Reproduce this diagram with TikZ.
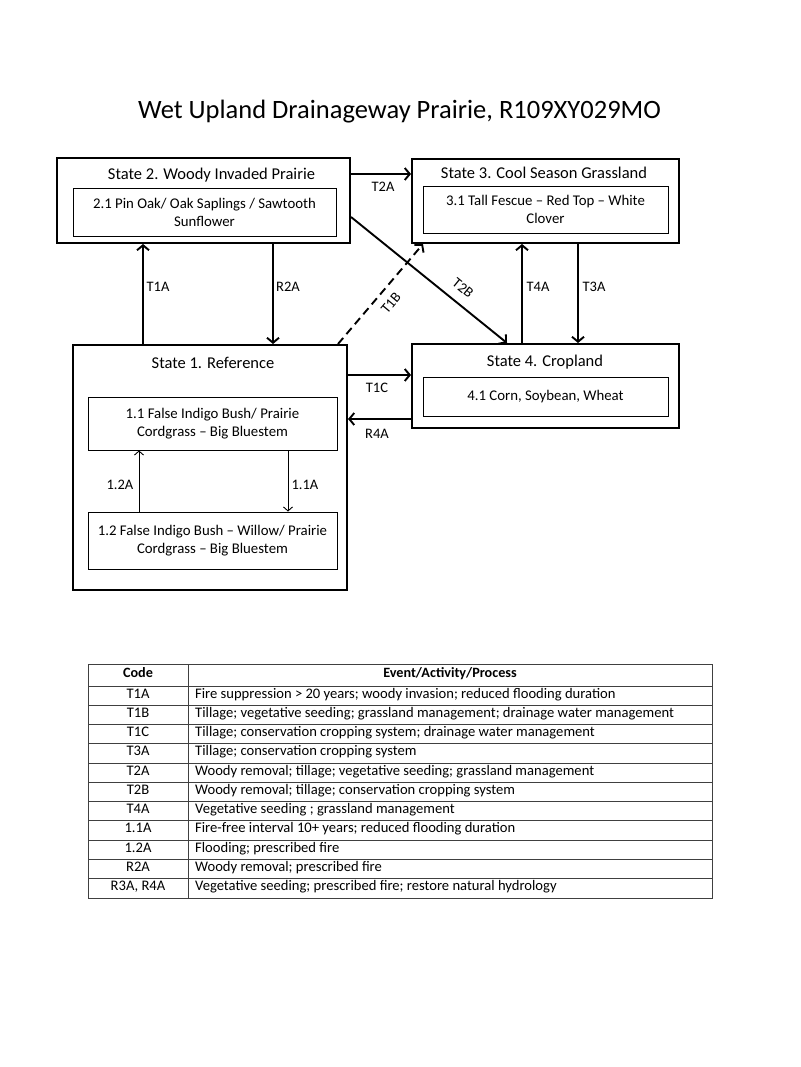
\documentclass[tikz,border=0pt]{standalone}
\usepackage{fontspec}
\setmainfont{Carlito}
\usetikzlibrary{arrows.meta}

\tikzset{
	statebox/.style={draw,line width=2pt,inner sep=0pt},
	phasebox/.style={draw,line width=0.9pt,inner sep=0pt,align=center,font=\fontsize{14.8}{18}\selectfont},
	statename/.style={font=\fontsize{16.5}{19}\selectfont},
	arr/.style={line width=1.9pt,-{Straight Barb[length=5pt,width=12pt]}},
	thinarr/.style={line width=0.9pt,-{Straight Barb[length=4pt,width=9pt]}},
	lbl/.style={font=\fontsize{14.5}{17}\selectfont},
	cell/.style={font=\fontsize{14.6}{17}\selectfont,inner sep=0pt}
}

\begin{document}
\begin{tikzpicture}[x=1pt,y=-1pt]
	\useasboundingbox (0,0) rectangle (800,1067);
	\node[font=\fontsize{26.5}{30}\selectfont] (title) at (399.5,112) {Wet Upland Drainageway Prairie, R109XY029MO};

	\node[statebox,minimum width=293,minimum height=85] (st2) at (203.5,200.5) {};
	\node[statename] at (211.5,175) {State 2. Woody Invaded Prairie};
	\node[phasebox,minimum width=263,minimum height=48] (ph21) at (204.5,212) {2.1 Pin Oak/ Oak Saplings / Sawtooth\\Sunflower};

	\node[statebox,minimum width=267,minimum height=84] (st3) at (545.5,201) {};
	\node[statename] at (544,173) {State 3. Cool Season Grassland};
	\node[phasebox,minimum width=245,minimum height=47] (ph31) at (545.5,209.5) {3.1 Tall Fescue -- Red Top -- White\\Clover};

	\node[statebox,minimum width=274,minimum height=245] (st1) at (210,467.5) {};
	\node[statename] at (213,363) {State 1. Reference};
	\node[phasebox,minimum width=249,minimum height=53] (ph11) at (212.5,423.5) {1.1 False Indigo Bush/ Prairie\\Cordgrass -- Big Bluestem};
	\node[phasebox,minimum width=249,minimum height=57] (ph12) at (212.5,540.5) {1.2 False Indigo Bush -- Willow/ Prairie\\Cordgrass -- Big Bluestem};

	\node[statebox,minimum width=267,minimum height=84] (st4) at (545.5,386) {};
	\node[statename] at (545,362) {State 4. Cropland};
	\node[phasebox,minimum width=245,minimum height=39] (ph41) at (545.5,396.5) {4.1 Corn, Soybean, Wheat};

	\draw[arr] (st2.east |- 0,174) -- (st3.west |- 0,174);
	\node[lbl] at (383,187) {T2A};
	\draw[arr] (st1.north -| 143,0) -- (st2.south -| 143,0);
	\node[lbl] at (158,287) {T1A};
	\draw[arr] (st2.south -| 273,0) -- (st1.north -| 273,0);
	\node[lbl] at (288,287) {R2A};
	\draw[arr,dash pattern=on 8pt off 5pt] (st1.north -| 338,0) -- (st3.south -| 423,0);
	\node[lbl,rotate=50] at (391,303) {T1B};
	\draw[arr] (st2.east |- 0,217) -- (st4.north -| 507,0);
	\node[lbl,rotate=-39] at (463,288) {T2B};
	\draw[arr] (st4.north -| 522,0) -- (st3.south -| 522,0);
	\node[lbl] at (538,287) {T4A};
	\draw[arr] (st3.south -| 578,0) -- (st4.north -| 578,0);
	\node[lbl] at (594,287) {T3A};
	\draw[arr] (st1.east |- 0,375) -- (st4.west |- 0,375);
	\node[lbl] at (377,388) {T1C};
	\draw[arr] (st4.west |- 0,419) -- (st1.east |- 0,419);
	\node[lbl] at (377,434) {R4A};
	\draw[thinarr] (ph12.north -| 139,0) -- (ph11.south -| 139,0);
	\node[lbl] at (120,485) {1.2A};
	\draw[thinarr] (ph11.south -| 288,0) -- (ph12.north -| 288,0);
	\node[lbl] at (305,485) {1.1A};

	\draw[black!75,line width=0.9pt] (88,664) rectangle (712,898);
	\draw[black!75,line width=0.9pt] (188,664) -- (188,898);
	\draw[black!75,line width=0.9pt] (88,686) -- (712,686);
	\node[cell,anchor=mid,font=\fontsize{14.2}{17}\bfseries] (codehead) at (138,675) {Code};
	\node[cell,anchor=mid,font=\fontsize{14.2}{17}\bfseries] (evthead) at (450,675) {Event/Activity/Process};
	\foreach \c/\t [count=\i] in {
		T1A/Fire suppression > 20 years; woody invasion; reduced flooding duration,
		T1B/Tillage; vegetative seeding; grassland management; drainage water management,
		T1C/Tillage; conservation cropping system; drainage water management,
		T3A/Tillage; conservation cropping system,
		T2A/Woody removal; tillage; vegetative seeding; grassland management,
		T2B/Woody removal; tillage; conservation cropping system,
		T4A/Vegetative seeding ; grassland management,
		1.1A/Fire-free interval 10+ years; reduced flooding duration,
		1.2A/Flooding; prescribed fire,
		R2A/Woody removal; prescribed fire,
		{R3A, R4A}/Vegetative seeding; prescribed fire; restore natural hydrology}
	{
		\node[cell,anchor=mid] (code\i) at (138,{686+19.27*(\i-0.5)}) {\c};
		\node[cell,anchor=mid west] (evt\i) at (195,{686+19.27*(\i-0.5)}) {\t};
		\ifnum\i<11
			\draw[black!75,line width=0.9pt] (88,{686+19.27*\i}) -- (712,{686+19.27*\i});
		\fi
	}
\end{tikzpicture}
\end{document}
